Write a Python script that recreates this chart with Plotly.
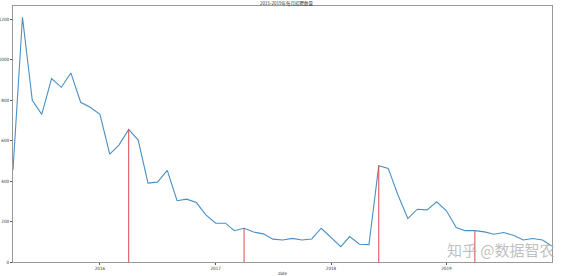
import pandas as pd
import plotly.graph_objects as go

months = pd.date_range("2015-04-01", "2019-12-01", freq="MS")
counts = [455, 1210, 800, 730, 907, 864, 935, 790, 765, 730,
          534, 578, 656, 603, 390, 395, 453, 303, 311, 294,
          233, 192, 192, 155, 167, 148, 139, 113, 109, 117,
          109, 114, 167, 122, 76, 126, 88, 86, 476, 463,
          330, 215, 261, 258, 298, 253, 170, 155, 155, 149,
          137, 146, 132, 109, 116, 109, 79]
marked = ["2016-04-01", "2017-04-01", "2018-06-01", "2019-04-01"]
year_ticks = ["2016-01-01", "2017-01-01", "2018-01-01", "2019-01-01"]
year_labels = ["2016", "2017", "2018", "2019"]
y_ticks = [0, 200, 400, 600, 800, 1000, 1200]
title = "2015-2019年每月招聘数量"

series = pd.Series(counts, index=months)

fig = go.Figure()
fig.add_trace(go.Scatter(x=months, y=counts, mode="lines",
                         line=dict(color="#4a90c4", width=1.1),
                         showlegend=False, hoverinfo="skip"))
for d in marked:
    v = series[pd.Timestamp(d)]
    fig.add_trace(go.Scatter(x=[d, d], y=[0, v], mode="lines",
                             line=dict(color="#e04848", width=1),
                             showlegend=False, hoverinfo="skip"))

axis_font = dict(family="Liberation Sans Narrow, DejaVu Sans Condensed", size=4.5, color="#333")
fig.update_layout(
    width=573, height=276,
    margin=dict(l=13, r=21, t=6, b=14),
    paper_bgcolor="white", plot_bgcolor="white",
    title=dict(text=title, x=0.5, xanchor="center", y=0.993, yanchor="top",
               font=dict(family="Noto Sans CJK SC", size=4.5, color="#333")),
    xaxis=dict(range=["2015-04-01", "2019-12-01"], type="date",
               tickvals=year_ticks, ticktext=year_labels,
               ticks="outside", ticklen=2, tickcolor="#555",
               showgrid=False, zeroline=False, automargin=False,
               showline=True, linecolor="#999", linewidth=1, mirror=True,
               tickfont=axis_font,
               title=dict(text="date", font=axis_font, standoff=1)),
    yaxis=dict(range=[0, 1266], tickvals=y_ticks,
               ticks="outside", ticklen=2, tickcolor="#555",
               showgrid=False, zeroline=False, automargin=False,
               showline=True, linecolor="#999", linewidth=1, mirror=True,
               tickfont=axis_font),
)
fig.add_annotation(text="知乎 @数据智农", xref="paper", yref="paper",
                   x=1.01, y=0.0, xanchor="right", yanchor="bottom",
                   showarrow=False,
                   font=dict(family="Noto Sans CJK SC", size=15,
                             color="rgba(170,170,170,0.75)"))
fig.write_html("out.html")
